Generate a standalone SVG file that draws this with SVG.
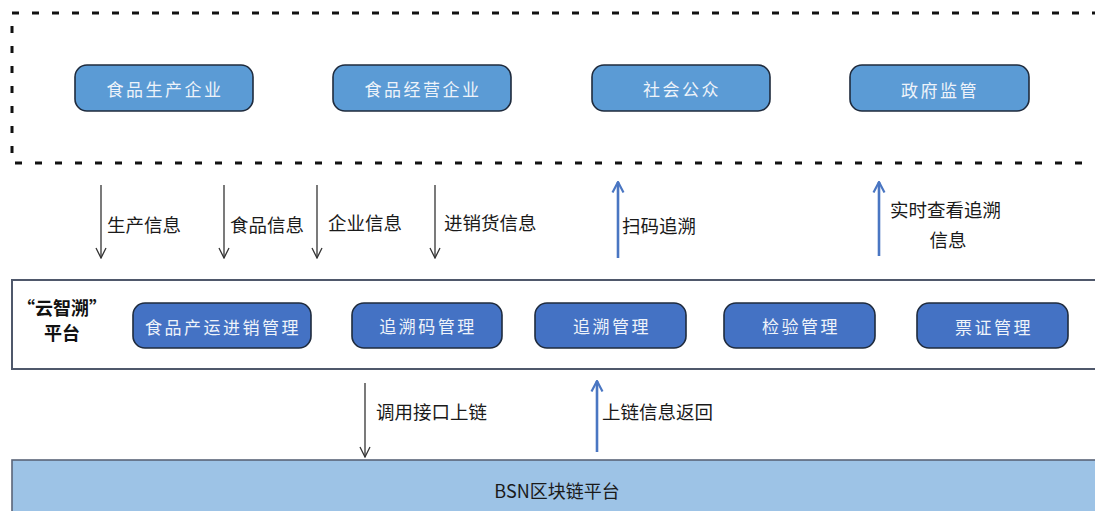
<svg xmlns="http://www.w3.org/2000/svg" width="1095" height="511" viewBox="0 0 1095 511">
<defs>
<style>
.top{fill:#5b9bd5;stroke:#1f2b3d;stroke-width:1.6}
.mid{fill:#4472c4;stroke:#1f2b3d;stroke-width:1.6}
.nt{font-family:"Noto Sans CJK SC","Noto Sans",sans-serif;font-size:17px;fill:#eef3fa;text-anchor:middle;dominant-baseline:central;letter-spacing:2.5px}
.lb{font-family:"Noto Sans CJK SC","Noto Sans",sans-serif;font-size:18.5px;fill:#1a1a1a;dominant-baseline:central}
.blk{stroke:#333;stroke-width:1.3;fill:none}
.blu{stroke:#4a76c2;stroke-width:2.6;fill:none}
</style>
<marker id="ah" markerWidth="12" markerHeight="12" refX="11" refY="6" orient="auto" markerUnits="userSpaceOnUse" viewBox="0 0 12 12">
<path d="M1,1 L11,6 L1,11" fill="none" stroke="#333" stroke-width="1.3"/>
</marker>
<marker id="bh" markerWidth="14" markerHeight="14" refX="12.5" refY="7" orient="auto" markerUnits="userSpaceOnUse" viewBox="0 0 14 14">
<path d="M2,1.5 L12.5,7 L2,12.5" fill="none" stroke="#4a76c2" stroke-width="2.2"/>
</marker>
</defs>
<rect width="1095" height="511" fill="#ffffff"/>

<g id="user-layer">
<rect x="12" y="13" width="1100" height="150" fill="none" stroke="#111" stroke-width="3" stroke-dasharray="7,13"/>
</g>

<g id="node-producer"><rect class="top" x="75" y="65" width="178" height="46" rx="12"/><text class="nt" x="165" y="88">食品生产企业</text></g>
<g id="node-operator"><rect class="top" x="333" y="65" width="178" height="46" rx="12"/><text class="nt" x="423" y="88">食品经营企业</text></g>
<g id="node-public"><rect class="top" x="592" y="65" width="178" height="46" rx="12"/><text class="nt" x="682" y="88">社会公众</text></g>
<g id="node-gov"><rect class="top" x="850" y="65" width="179" height="46" rx="12"/><text class="nt" x="940" y="89">政府监管</text></g>

<g id="platform">
<rect x="12" y="280" width="1100" height="89" fill="#ffffff" stroke="#4f586b" stroke-width="2"/>
<text x="62" y="307" font-family="'Noto Sans CJK SC',sans-serif" font-size="18" font-weight="bold" fill="#111" text-anchor="middle" dominant-baseline="central">“云智溯”</text>
<text x="62" y="332" font-family="'Noto Sans CJK SC',sans-serif" font-size="18" font-weight="bold" fill="#111" text-anchor="middle" dominant-baseline="central">平台</text>
</g>

<g id="node-supply"><rect class="mid" x="133" y="303" width="178" height="45" rx="12"/><text class="nt" x="223" y="326">食品产运进销管理</text></g>
<g id="node-code"><rect class="mid" x="352" y="303" width="150" height="45" rx="12"/><text class="nt" x="428" y="325">追溯码管理</text></g>
<g id="node-trace"><rect class="mid" x="535" y="303" width="151" height="45" rx="12"/><text class="nt" x="612" y="325">追溯管理</text></g>
<g id="node-inspect"><rect class="mid" x="724" y="303" width="151" height="45" rx="12"/><text class="nt" x="801" y="325">检验管理</text></g>
<g id="node-ticket"><rect class="mid" x="917" y="303" width="151" height="45" rx="12"/><text class="nt" x="994" y="326">票证管理</text></g>

<g id="node-bsn">
<rect x="12" y="460" width="1100" height="60" fill="#9dc3e6" stroke="#5a6478" stroke-width="1.6"/>
<text x="557" y="490" font-family="'Noto Sans CJK SC',sans-serif" font-size="18" fill="#1a1a1a" text-anchor="middle" dominant-baseline="central">BSN区块链平台</text>
</g>

<g id="connectors">
<line class="blk" x1="101" y1="185" x2="101" y2="258" marker-end="url(#ah)"/>
<line class="blk" x1="224" y1="185" x2="224" y2="258" marker-end="url(#ah)"/>
<line class="blk" x1="317" y1="185" x2="317" y2="258" marker-end="url(#ah)"/>
<line class="blk" x1="435" y1="185" x2="435" y2="258" marker-end="url(#ah)"/>
<line class="blu" x1="618" y1="258" x2="618" y2="182" marker-end="url(#bh)"/>
<line class="blu" x1="879" y1="256" x2="879" y2="182" marker-end="url(#bh)"/>
<line class="blk" x1="365" y1="383" x2="365" y2="457" marker-end="url(#ah)"/>
<line class="blu" x1="597" y1="452" x2="597" y2="381" marker-end="url(#bh)"/>
<text class="lb" x="107" y="224">生产信息</text>
<text class="lb" x="230" y="224">食品信息</text>
<text class="lb" x="328" y="222">企业信息</text>
<text class="lb" x="444" y="222">进销货信息</text>
<text class="lb" x="622" y="225">扫码追溯</text>
<text class="lb" x="890" y="209">实时查看追溯</text>
<text class="lb" x="948" y="239" text-anchor="middle">信息</text>
<text class="lb" x="376" y="411">调用接口上链</text>
<text class="lb" x="602" y="411">上链信息返回</text>
</g>
</svg>
